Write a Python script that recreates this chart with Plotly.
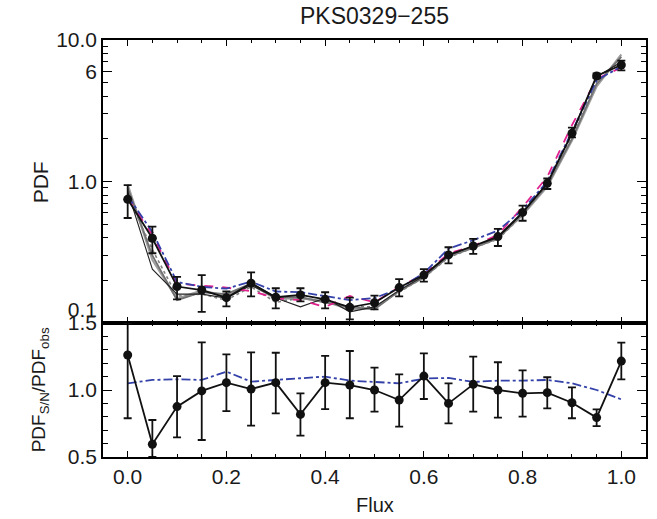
import plotly.graph_objects as go
from plotly.subplots import make_subplots

# ---------------- data ----------------
flux = [0.00, 0.05, 0.10, 0.15, 0.20, 0.25, 0.30, 0.35, 0.40, 0.45, 0.50,
        0.55, 0.60, 0.65, 0.70, 0.75, 0.80, 0.85, 0.90, 0.95, 1.00]

pdf_obs = [0.748, 0.397, 0.181, 0.171, 0.151, 0.191, 0.152, 0.158, 0.147, 0.129, 0.139,
           0.178, 0.218, 0.303, 0.350, 0.408, 0.605, 0.971, 2.19, 5.57, 6.66]
pdf_obs_hi = [0.944, 0.480, 0.212, 0.218, 0.167, 0.228, 0.176, 0.176, 0.165, 0.151, 0.156,
              0.204, 0.240, 0.343, 0.393, 0.462, 0.675, 1.05, 2.40, 5.80, 7.15]
pdf_obs_lo = [0.552, 0.311, 0.147, 0.120, 0.131, 0.154, 0.127, 0.142, 0.127, 0.106, 0.125,
              0.154, 0.196, 0.264, 0.308, 0.350, 0.528, 0.885, 2.05, 5.37, 6.10]

model_gray_a = [0.95, 0.28, 0.148, 0.170, 0.155, 0.188, 0.148, 0.150, 0.142, 0.125, 0.128,
                0.170, 0.213, 0.298, 0.343, 0.398, 0.58, 0.92, 1.95, 4.7, 7.9]
model_gray_b = [0.90, 0.30, 0.145, 0.165, 0.160, 0.190, 0.152, 0.152, 0.140, 0.130, 0.125,
                0.168, 0.210, 0.295, 0.340, 0.395, 0.59, 0.94, 2.00, 4.9, 7.6]
model_black = [0.85, 0.24, 0.160, 0.160, 0.150, 0.185, 0.150, 0.130, 0.150, 0.120, 0.130,
               0.170, 0.215, 0.300, 0.350, 0.400, 0.60, 0.97, 2.20, 5.5, 7.0]
model_dotted = [0.80, 0.33, 0.155, 0.160, 0.145, 0.180, 0.140, 0.150, 0.140, 0.130, 0.130,
                0.165, 0.210, 0.290, 0.340, 0.390, 0.58, 0.95, 2.10, 5.0, 7.2]
model_magenta = [0.76, 0.42, 0.190, 0.185, 0.178, 0.168, 0.150, 0.145, 0.130, 0.155, 0.140,
                 0.180, 0.220, 0.310, 0.350, 0.420, 0.66, 1.08, 2.50, 5.3, 6.4]
model_blue = [0.79, 0.44, 0.195, 0.180, 0.175, 0.196, 0.167, 0.165, 0.155, 0.145, 0.150,
              0.175, 0.225, 0.335, 0.385, 0.450, 0.63, 1.00, 2.25, 5.2, 6.5]

ratio = [1.261, 0.595, 0.876, 0.993, 1.055, 1.007, 1.055, 0.818, 1.055, 1.037, 1.000,
         0.925, 1.104, 0.900, 1.042, 1.000, 0.975, 0.980, 0.905, 0.794, 1.216]
ratio_hi = [1.50, 0.776, 1.104, 1.356, 1.266, 1.281, 1.278, 0.975, 1.254, 1.291, 1.167,
            1.117, 1.274, 1.050, 1.249, 1.207, 1.147, 1.095, 1.020, 0.856, 1.353]
ratio_lo = [0.789, 0.50, 0.647, 0.627, 0.843, 0.734, 0.826, 0.659, 0.858, 0.789, 0.838,
            0.726, 0.933, 0.751, 0.838, 0.794, 0.801, 0.863, 0.789, 0.731, 1.080]
ratio_blue = [1.05, 1.075, 1.08, 1.075, 1.137, 1.062, 1.075, 1.087, 1.10, 1.07, 1.062,
              1.05, 1.085, 1.09, 1.06, 1.07, 1.07, 1.075, 1.05, 1.00, 0.93]

x_ticks = [0.0, 0.2, 0.4, 0.6, 0.8, 1.0]
x_ticktext = ["0.0", "0.2", "0.4", "0.6", "0.8", "1.0"]
x_minor = [0.05, 0.1, 0.15, 0.25, 0.3, 0.35, 0.45, 0.5, 0.55, 0.65, 0.7, 0.75, 0.85, 0.9, 0.95]
y1_ticks = [0.1, 1.0, 6.0, 10.0]
y1_ticktext = ["0.1<br>\u00a0", "1.0", "6", "10.0"]
y1_minor = [0.2, 0.3, 0.4, 0.5, 0.6, 0.7, 0.8, 0.9, 2, 3, 4, 5, 7, 8, 9]
y2_ticks = [0.5, 1.0, 1.5]
y2_ticktext = ["0.5", "1.0", "1.5"]
y2_minor = [0.6, 0.7, 0.8, 0.9, 1.1, 1.2, 1.3, 1.4]

MAGENTA = "#e0208c"
BLUE = "#3341a8"
FONT = "Liberation Sans"
TXT = "#1a1a1a"

fig = make_subplots(rows=2, cols=1, shared_xaxes=True, vertical_spacing=0,
                    row_heights=[283, 134])

def err(vals, hi, lo):
    return ([h - v for h, v in zip(hi, vals)], [v - l for v, l in zip(vals, lo)])

# top panel model lines
fig.add_trace(go.Scatter(x=flux, y=model_gray_a, mode="lines",
                         line=dict(color="#a0a0a0", width=2.2)), row=1, col=1)
fig.add_trace(go.Scatter(x=flux, y=model_gray_b, mode="lines",
                         line=dict(color="#707070", width=1.8)), row=1, col=1)
fig.add_trace(go.Scatter(x=flux, y=model_dotted, mode="lines",
                         line=dict(color="#808080", width=1.6, dash="dot")), row=1, col=1)
fig.add_trace(go.Scatter(x=flux, y=model_black, mode="lines",
                         line=dict(color="#222222", width=1.1)), row=1, col=1)
fig.add_trace(go.Scatter(x=flux, y=model_magenta, mode="lines",
                         line=dict(color=MAGENTA, width=1.8, dash="dash")), row=1, col=1)
fig.add_trace(go.Scatter(x=flux, y=model_blue, mode="lines",
                         line=dict(color=BLUE, width=1.8, dash="dashdot")), row=1, col=1)

up, dn = err(pdf_obs, pdf_obs_hi, pdf_obs_lo)
fig.add_trace(go.Scatter(x=flux, y=pdf_obs, mode="lines+markers",
                         line=dict(color="#111111", width=1.8),
                         marker=dict(color="#111111", size=9),
                         error_y=dict(type="data", array=up, arrayminus=dn,
                                      color="#111111", thickness=1.8, width=4)),
              row=1, col=1)

# bottom panel
fig.add_hline(y=1.0, line=dict(color="#777777", width=1.2), row=2, col=1)
fig.add_trace(go.Scatter(x=flux, y=ratio_blue, mode="lines",
                         line=dict(color=BLUE, width=1.8, dash="dashdot")), row=2, col=1)
up2, dn2 = err(ratio, ratio_hi, ratio_lo)
fig.add_trace(go.Scatter(x=flux, y=ratio, mode="lines+markers",
                         line=dict(color="#111111", width=1.8),
                         marker=dict(color="#111111", size=9),
                         error_y=dict(type="data", array=up2, arrayminus=dn2,
                                      color="#111111", thickness=1.8, width=4)),
              row=2, col=1)

axis_common = dict(showline=True, linecolor="black", linewidth=1.6, mirror="allticks",
                   ticks="inside", tickcolor="black", tickwidth=1.3, showgrid=False,
                   zeroline=False, tickfont=dict(family=FONT, size=21, color=TXT))

fig.update_xaxes(range=[-0.05, 1.05], tickmode="array", tickvals=x_ticks, ticktext=x_ticktext,
                 ticklen=6,
                 minor=dict(tickmode="array", tickvals=x_minor, ticks="inside", ticklen=3,
                            tickcolor="black", tickwidth=1.0, showgrid=False),
                 **axis_common)
fig.update_xaxes(showticklabels=False, row=1, col=1)
fig.update_yaxes(type="log", range=[-1, 1], tickmode="array", tickvals=y1_ticks,
                 ticktext=y1_ticktext, ticklen=9,
                 minor=dict(tickmode="array", tickvals=y1_minor, ticks="inside", ticklen=5,
                            tickcolor="black", tickwidth=1.0, showgrid=False),
                 row=1, col=1, **axis_common)
fig.update_yaxes(range=[0.5, 1.5], tickmode="array", tickvals=y2_ticks,
                 ticktext=y2_ticktext, ticklen=9,
                 minor=dict(tickmode="array", tickvals=y2_minor, ticks="inside", ticklen=5,
                            tickcolor="black", tickwidth=1.0, showgrid=False),
                 row=2, col=1, **axis_common)

fig.update_layout(
    width=657, height=519,
    margin=dict(l=103, r=9, t=40, b=62),
    paper_bgcolor="white", plot_bgcolor="white",
    showlegend=False,
    font=dict(family=FONT, size=21, color=TXT),
    title=dict(text="PKS0329\u2212255", x=0.5, xref="paper", y=1 - 16 / 519,
               yref="container", yanchor="middle", xanchor="center",
               font=dict(family=FONT, size=23, color=TXT)),
    annotations=[
        dict(text="PDF", xref="paper", yref="paper", x=-63 / 546, y=1 - 142 / 417,
             xanchor="center", yanchor="middle",
             showarrow=False, textangle=-90, font=dict(family=FONT, size=21, color=TXT)),
        dict(text="PDF<sub>S/N</sub>/PDF<sub>obs</sub>", xref="paper", yref="paper",
             x=-63 / 546, y=67 / 417, xanchor="center", yanchor="middle",
             showarrow=False, textangle=-90,
             font=dict(family=FONT, size=19, color=TXT)),
        dict(text="Flux", xref="paper", yref="paper", x=0.5, y=-48 / 417,
             yanchor="middle", showarrow=False, font=dict(family=FONT, size=20, color=TXT)),
    ],
)

fig.write_html("out.html")
